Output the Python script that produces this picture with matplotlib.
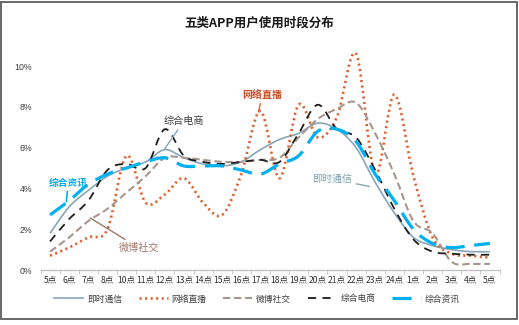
import matplotlib
matplotlib.use("Agg")
import matplotlib.pyplot as plt
import numpy as np
from matplotlib.path import Path
from matplotlib.patches import PathPatch, Rectangle
from matplotlib.lines import Line2D

plt.rcParams['font.family'] = ['Noto Sans CJK SC', 'DejaVu Sans']

categories = ['5点', '6点', '7点', '8点', '10点', '11点', '12点', '13点', '14点', '15点',
              '16点', '17点', '18点', '19点', '20点', '21点', '22点', '23点', '24点',
              '1点', '2点', '3点', '4点', '5点']

im_vals = [1.8, 3.1, 3.9, 4.6, 5.0, 5.3, 5.9, 5.5, 5.2, 5.1, 5.3, 5.9, 6.4, 6.7, 7.2, 6.9,
           6.0, 4.3, 2.8, 1.6, 1.2, 1.0, 0.9, 0.9]
live_vals = [0.7, 1.1, 1.6, 2.0, 5.6, 3.3, 3.7, 4.5, 3.3, 2.7, 4.7, 7.8, 4.5, 8.1, 6.5, 7.5,
             10.6, 4.7, 8.6, 4.6, 1.6, 0.8, 0.7, 0.6]
weibo_vals = [0.9, 1.6, 2.4, 3.0, 3.8, 4.6, 5.5, 5.5, 5.4, 5.3, 5.3, 5.4, 5.5, 6.5, 7.4, 7.9,
              8.2, 6.7, 4.7, 2.4, 1.8, 0.4, 0.3, 0.3]
ecom_vals = [1.4, 2.5, 3.4, 4.9, 5.2, 5.0, 6.9, 5.6, 5.3, 5.2, 5.3, 5.4, 5.3, 6.7, 8.1, 6.9,
             6.5, 4.9, 3.0, 1.5, 0.9, 0.8, 0.75, 0.75]
news_vals = [2.7, 3.4, 4.2, 4.7, 5.0, 5.3, 5.5, 5.1, 5.1, 5.1, 4.9, 4.7, 5.2, 5.6, 6.8, 6.9,
             6.3, 4.7, 3.4, 2.0, 1.3, 1.1, 1.2, 1.3]

series_names = ['即时通信', '网络直播', '微博社交', '综合电商', '综合资讯']
series_vals = [im_vals, live_vals, weibo_vals, ecom_vals, news_vals]
colors = ['#86a6b8', '#e0602f', '#a8968e', '#1e1e1e', '#00b0f0']
styles = [dict(lw=1.2, ls='-'),
          dict(lw=1.9, ls=(0, (0.8, 1.3))),
          dict(lw=1.5, ls=(0, (3.5, 1.8))),
          dict(lw=1.3, ls=(0, (4.5, 3.5))),
          dict(lw=2.3, ls=(0, (6, 3)))]


def smooth_path(xs, ys):
    p = np.column_stack([xs, ys]).astype(float)
    n = len(p)
    verts = [tuple(p[0])]
    codes = [Path.MOVETO]
    for i in range(n - 1):
        p0 = p[i - 1] if i > 0 else p[i]
        p3 = p[i + 2] if i + 2 < n else p[i + 1]
        c1 = p[i] + (p[i + 1] - p0) / 6.0
        c2 = p[i + 1] - (p3 - p[i]) / 6.0
        verts += [tuple(c1), tuple(c2), tuple(p[i + 1])]
        codes += [Path.CURVE4] * 3
    return Path(verts, codes)


fig = plt.figure(figsize=(5.19, 3.25), dpi=100)
ax = fig.add_axes([40.5 / 519, 55 / 325, 459 / 519, 224.4 / 325])

x = np.arange(len(categories))
for name, vals, c, st in zip(series_names, series_vals, colors, styles):
    patch = PathPatch(smooth_path(x, vals), fill=False, edgecolor=c,
                      linewidth=st['lw'], linestyle=st['ls'], capstyle='butt')
    ax.add_patch(patch)

ax.set_xlim(-0.5, len(categories) - 0.5)
ax.set_ylim(0, 11)
ax.set_yticks([0, 2, 4, 6, 8, 10])
ax.set_yticklabels(['0%', '2%', '4%', '6%', '8%', '10%'], fontsize=6.3, color='#404040',
                   family=['Liberation Sans', 'DejaVu Sans'])
ax.set_xticks(x)
ax.set_xticklabels(categories, fontsize=6.2, color='#303030')
ax.set_xticks(np.arange(-0.5, len(categories), 1), minor=True)
ax.tick_params(axis='x', which='major', length=0, pad=4)
ax.tick_params(axis='x', which='minor', length=3, color='#bfbfbf', direction='out')
ax.tick_params(axis='y', length=0, pad=6)
for s in ['top', 'right', 'left']:
    ax.spines[s].set_visible(False)
ax.spines['bottom'].set_color('#bfbfbf')
ax.spines['bottom'].set_linewidth(0.9)

# in-plot labels with leader lines
ax.annotate('综合资讯', xy=(0.85, 3.35), xytext=(0.95, 4.3), fontsize=7, color='#00a8e8',
            fontweight='bold', ha='center', va='center',
            arrowprops=dict(arrowstyle='-', color='#00b0f0', lw=1.2, shrinkA=1, shrinkB=0))
ax.annotate('综合电商', xy=(6.0, 5.95), xytext=(7.0, 7.3), fontsize=7.3, color='#404040',
            ha='center', va='center',
            arrowprops=dict(arrowstyle='-', color='#86a6b8', lw=1.0, shrinkA=1, shrinkB=0))
ax.annotate('网络直播', xy=(10.9, 7.75), xytext=(11.1, 8.6), fontsize=7.2, color='#c8502a',
            fontweight='bold', ha='center', va='center',
            arrowprops=dict(arrowstyle='-', color='#e0602f', lw=1.0, shrinkA=1, shrinkB=0))
ax.annotate('即时通信', xy=(16.7, 4.1), xytext=(14.75, 4.45), fontsize=7.2, color='#7f9fb0',
            ha='center', va='center',
            arrowprops=dict(arrowstyle='-', color='#86a6b8', lw=1.0, shrinkA=1, shrinkB=0))
ax.annotate('微博社交', xy=(2.1, 2.55), xytext=(4.65, 1.08), fontsize=7.3, color='#a07868',
            ha='center', va='center',
            arrowprops=dict(arrowstyle='-', color='#a07868', lw=1.0, shrinkA=1, shrinkB=0))

fig.text(259 / 519, 1 - 23 / 325, '五类APP用户使用时段分布', ha='center', va='center',
         fontsize=9, fontweight='bold', color='#1a1a1a')

handles = [Line2D([0], [0], color=c, lw=st['lw'], ls=st['ls']) for c, st in zip(colors, styles)]
fig.legend(handles, series_names, loc='center', bbox_to_anchor=(257 / 519, 26 / 325), ncol=5,
           frameon=False, fontsize=6.3, labelcolor='#404040', handlelength=3.3,
           handletextpad=0.45, columnspacing=1.9)

fig.add_artist(Rectangle((1 / 519, 6 / 325), 516 / 519, 317 / 325, transform=fig.transFigure,
                         fill=False, edgecolor='#5a5a5a', lw=1.3))

fig.savefig('out.png', dpi=100)
